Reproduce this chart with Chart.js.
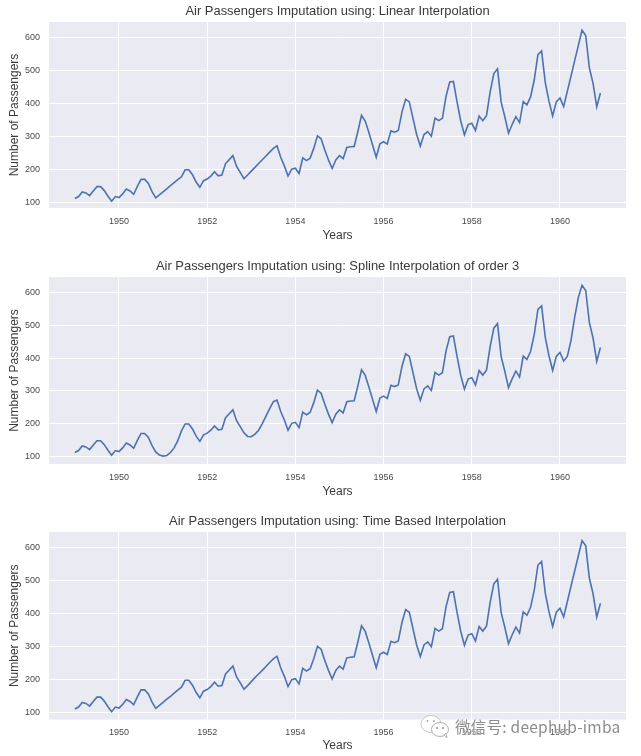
<!DOCTYPE html>
<html>
<head>
<meta charset="utf-8">
<style>
html,body{margin:0;padding:0;background:#fff;width:641px;height:756px;overflow:hidden;position:relative}
canvas{position:absolute;left:0;filter:blur(0.6px)}
#wm{position:absolute;left:455px;top:715px;font:15.5px "Noto Sans CJK SC","Liberation Sans",sans-serif;letter-spacing:0.25px;color:#8c8c8c;line-height:22px;white-space:nowrap;text-shadow:0 0 2px #fff,0 0 2px #fff;filter:blur(0.3px)}
#wi{position:absolute;left:420px;top:714px}
</style>
</head>
<body>
<canvas id="c1" width="641" height="250" style="top:0"></canvas>
<canvas id="c2" width="641" height="251" style="top:255px"></canvas>
<canvas id="c3" width="641" height="246" style="top:510px"></canvas>
<svg id="wi" width="30" height="26" viewBox="0 0 30 26">
  <ellipse cx="11" cy="10" rx="10" ry="8.5" fill="#fff" stroke="#bbb" stroke-width="0.8"/>
  <ellipse cx="20" cy="15.5" rx="8.5" ry="7" fill="#fff" stroke="#999" stroke-width="0.8"/>
  <path d="M24 21l3 3-1-5z" fill="#fff" stroke="#999" stroke-width="0.7"/>
  <circle cx="7.5" cy="7" r="1" fill="#aaa"/><circle cx="14" cy="7" r="1" fill="#aaa"/>
  <circle cx="17" cy="14" r="0.9" fill="#888"/><circle cx="23" cy="14" r="0.9" fill="#888"/>
</svg>
<div id="wm">微信号: deephub-imba</div>
<script src="https://cdn.jsdelivr.net/npm/chart.js@4"></script>
<script>
const years = [1949,1950,1951,1952,1953,1954,1955,1956,1957,1958,1959,1960];
const xTicks = [1950,1952,1954,1956,1958,1960];
const yTicks = [100,200,300,400,500,600];
const titles = [
  "Air Passengers Imputation using: Linear Interpolation",
  "Air Passengers Imputation using: Spline Interpolation of order 3",
  "Air Passengers Imputation using: Time Based Interpolation"
];
const linearValues = [
  112,118,132,129,121,135,148,148,136,119,104,118,
  115,126,141,135,125,149,170,170,158,133,114,123,
  132,141,151,160,169,178,199,199,184,162,146,166,
  171,180,193,181,183,218,230,242,209,191,172,183.5,
  195,206.5,218,229.5,241,252.5,264,272,237,211,180,201,
  204,188,235,227,234,264,302,293,259,229,203,229,
  242,233,267,269,270,315,364,347,312,274,237,278,
  284,277,317,313,318,374,413,405,355,306,271,306,
  315,301,356,348,355,422,465,467,404,347,305,336,
  340,318,362,348,363,435,491,505,404,359,310,337,
  360,342,406,396,420,472,548,559,463,407,362,405,
  417,391,437,483,530,576,622,606,508,461,390,432
];
const splineValues = [
  112,118,132,129,121,135,148,148,136,119,104,118,
  115,126,141,135,125,149,170,170,158,133,114,104,
  101,103,112,126,148,178,199,199,184,162,146,166,
  171,180,193,181,183,218,230,242,209,191,172,161,
  160,168,180,200,223,246,267,272,237,211,180,201,
  204,188,235,227,234,264,302,293,259,229,203,229,
  242,233,267,269,270,315,364,347,312,274,237,278,
  284,277,317,313,318,374,413,405,355,306,271,306,
  315,301,356,348,355,422,465,467,404,347,305,336,
  340,318,362,348,363,435,491,505,404,359,310,337,
  360,342,406,396,420,472,548,559,463,407,362,405,
  417,391,405,454,525,585,622,606,508,461,390,432
];
const timeValues = [
  112,118,132,129,121,135,148,148,136,119,104,118,
  115,126,141,135,125,149,170,170,158,133,114,123,
  132,142,150,160,169,178,199,199,184,162,146,166,
  171,180,193,181,183,218,230,242,209,191,172,183,
  195,207,218,229,241,253,264,272,237,211,180,201,
  204,188,235,227,234,264,302,293,259,229,203,229,
  242,233,267,269,270,315,364,347,312,274,237,278,
  284,277,317,313,318,374,413,405,355,306,271,306,
  315,301,356,348,355,422,465,467,404,347,305,336,
  340,318,362,348,363,435,491,505,404,359,310,337,
  360,342,406,396,420,472,548,559,463,407,362,405,
  417,391,437,484,530,576,622,606,508,461,390,432
];
const seriesList = [linearValues, splineValues, timeValues];
const monthIndex = [0,1,2,3,4,5,6,7,8,9,10,11];
const xPositions = years.flatMap(y => monthIndex.map(m => y + m / 12));
const yRanges = [[83.3,647],[77,647],[80.3,648]];
const xRange = [1948.413,1961.497];
const areaTop = 22, areaBottoms = [208,209,209.5];
const font = '"Liberation Sans", Arial, sans-serif';
const ink = '#3a3a3a';
const titleSize = 12.95;

['c1','c2','c3'].forEach((id,i) => {
  const canvas = document.getElementById(id);
  new Chart(canvas, {
    type: 'line',
    data: { datasets: [{
      data: seriesList[i].map((v,k) => ({x:xPositions[k], y:v})),
      borderColor: '#4c72b0', borderWidth: 1.6, pointRadius: 0, tension: 0, fill: false
    }]},
    options: {
      responsive: false, animation: false, devicePixelRatio: 1,
      layout: { padding: { left: 0, right: 15, top: 0, bottom: 0 } },
      plugins: {
        legend: { display: false },
        tooltip: { enabled: false },
        title: { display: true, text: titles[i], fullSize: false, color: ink,
                 font: { family: font, size: titleSize, weight: 'normal', lineHeight: 1.2 },
                 padding: { top: 4, bottom: areaTop - 4 - titleSize*1.2 } }
      },
      scales: {
        x: {
          type: 'linear', min: xRange[0], max: xRange[1],
          afterBuildTicks: s => { s.ticks = xTicks.map(v => ({value:v})); },
          afterFit: s => { s.height = canvas.height - areaBottoms[i]; },
          border: { display: false },
          grid: { color: '#fff', lineWidth: 1, drawTicks: false },
          ticks: { color: '#4a4a4a', font: { family: font, size: 9 }, padding: 8, maxRotation: 0,
                   autoSkip: false, callback: v => String(v) },
          title: { display: true, text: 'Years', color: ink,
                   font: { family: font, size: 12, lineHeight: 1.2 }, padding: { top: 0, bottom: i==2 ? 3 : 7 } }
        },
        y: {
          type: 'linear', min: yRanges[i][0], max: yRanges[i][1],
          afterBuildTicks: s => { s.ticks = yTicks.map(v => ({value:v})); },
          afterFit: s => { s.width = 49; },
          border: { display: false },
          grid: { color: '#fff', lineWidth: 1, drawTicks: false },
          ticks: { color: '#4a4a4a', font: { family: font, size: 9 }, padding: 9,
                   autoSkip: false, callback: v => String(v) },
          title: { display: true, text: 'Number of Passengers', color: ink,
                   font: { family: font, size: 12, lineHeight: 1.2 }, padding: { top: 7, bottom: 0 } }
        }
      }
    },
    plugins: [{
      id: 'panelBg',
      beforeDraw(c) {
        const a = c.chartArea, g = c.ctx;
        g.save(); g.fillStyle = '#eaeaf2';
        g.fillRect(a.left, a.top, a.right - a.left, a.bottom - a.top);
        g.restore();
      }
    }]
  });
});
</script>
</body>
</html>
